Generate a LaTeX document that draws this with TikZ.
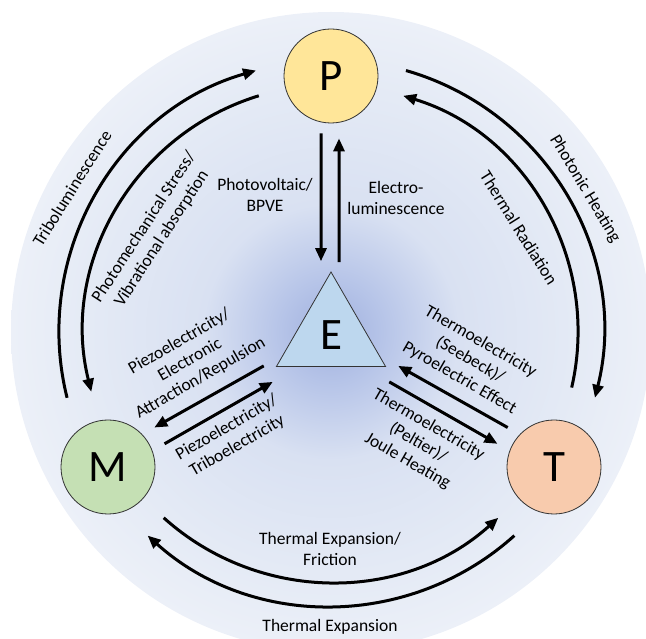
\documentclass[tikz,border=0pt]{standalone}
\usepackage{fontspec}
\setmainfont{Carlito}
\usetikzlibrary{arrows.meta}
\usetikzlibrary{shapes.geometric}

\definecolor{glowcore}{RGB}{160,176,222}
\definecolor{glowmid}{RGB}{182,196,232}
\definecolor{bgmid}{RGB}{217,225,242}
\definecolor{bgouter}{RGB}{228,234,245}
\definecolor{bgedge}{RGB}{236,240,248}
\definecolor{pfill}{RGB}{255,230,153}
\definecolor{mfill}{RGB}{197,224,180}
\definecolor{tfill}{RGB}{248,203,173}
\definecolor{efill}{RGB}{189,215,238}

\pgfdeclareradialshading{bgglow}{\pgfpoint{0bp}{0bp}}{%
  color(0bp)=(glowcore); color(4bp)=(glowmid); color(10bp)=(bgmid);
  color(19bp)=(bgouter); color(25bp)=(bgedge); color(50bp)=(bgedge)}

\begin{document}
\begin{tikzpicture}[x=1pt,y=1pt,
    state/.style={
        circle, draw=black!80, line width=0.8pt,
        minimum size=94pt, inner sep=0pt,
        font=\fontsize{45}{45}\selectfont
    },
    flow/.style={line width=3pt, -{Triangle[length=13pt,width=11pt]}},
    effect/.style={align=center, inner sep=0pt, font=\fontsize{17.5}{21}\selectfont}
    ]

    \useasboundingbox (0,0) rectangle (646,638);
    \coordinate (C) at (331,306);
    \begin{scope}
        \clip (0,0) rectangle (646,638);
        \shade[shading=bgglow] (C) circle (320);
    \end{scope}

    \node[state, fill=pfill] (P) at (331,562) {P};
    \node[state, fill=mfill] (M) at (108,171) {M};
    \node[state, fill=tfill] (T) at (554,171) {T};
    \node[regular polygon, regular polygon sides=3, draw=black!80, line width=0.8pt,
          fill=efill, minimum size=126pt, inner sep=0pt,
          font=\fontsize{45}{45}\selectfont] (E) at (331,303) {E};

    % P <-> E
    \draw[flow] ([xshift=-10pt,yshift=-10pt]P.south) -- ([xshift=-10pt,yshift=10pt]E.north);
    \draw[flow] ([xshift=8pt,yshift=9pt]E.north) -- ([xshift=8pt,yshift=-15pt]P.south);
    \node[effect] (pv) at (265,443) {Photovoltaic/\\BPVE};
    \node[effect] (el) at (396,440) {Electro-\\luminescence};

    % E <-> M
    \draw[flow] ([shift={(-12,1)}]E.corner 2) -- ([shift={(10,9)}]M.40);
    \draw[flow] ([shift={(12,7)}]M.20) -- ([shift={(-3,-15)}]E.corner 2);
    \node[effect, rotate=30] (piezo) at (190,278) {Piezoelectricity/\\Electronic\\Attraction/Repulsion};
    \node[effect, rotate=30] (tribo) at (232,201) {Piezoelectricity/\\Triboelectricity};

    % E <-> T
    \draw[flow] ([shift={(-10,9)}]T.140) -- ([shift={(12,1)}]E.corner 3);
    \draw[flow] ([shift={(3,-15)}]E.corner 3) -- ([shift={(-12,7)}]T.160);
    \node[effect, rotate=-30] (seebeck) at (470,278) {Thermoelectricity\\(Seebeck)/\\Pyroelectric Effect};
    \node[effect, rotate=-30] (peltier) at (418,195) {Thermoelectricity\\(Peltier)/\\Joule Heating};

    % outer loops
    \draw[flow] ([shift={(194:272)}]C) arc[start angle=194, end angle=106, radius=272];
    \draw[flow] ([shift={(107:247)}]C) arc[start angle=107, end angle=194, radius=247];
    \draw[flow] ([shift={(74:272)}]C) arc[start angle=74, end angle=-14, radius=272];
    \draw[flow] ([shift={(-13:247)}]C) arc[start angle=-13, end angle=73, radius=247];
    \draw[flow] ([shift={(228:250)}]C) arc[start angle=228, end angle=312, radius=250];
    \draw[flow] ([shift={(312:274)}]C) arc[start angle=312, end angle=228, radius=274];

    \node[effect, rotate=58] (tl) at (72,450) {Triboluminescence};
    \node[effect, rotate=57] (pm) at (153,405) {Photomechanical Stress/\\Vibrational absorption};
    \node[effect, rotate=-59] (ph) at (585,449) {Photonic Heating};
    \node[effect, rotate=-58] (tr) at (519,410) {Thermal Radiation};
    \node[effect] (tef) at (330,89) {Thermal Expansion/\\Friction};
    \node[effect] (te) at (330,11) {Thermal Expansion};
\end{tikzpicture}
\end{document}
